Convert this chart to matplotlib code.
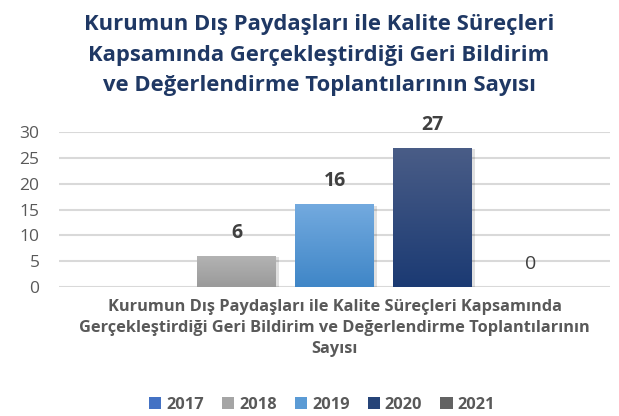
import matplotlib
matplotlib.use("Agg")
import matplotlib.pyplot as plt
import numpy as np
from matplotlib.colors import LinearSegmentedColormap
from matplotlib.patches import Patch

years = ["2017", "2018", "2019", "2020", "2021"]
values = [0, 6, 16, 27, 0]
show_label = [False, True, True, True, True]
bold_label = [True, True, True, True, False]
legend_colors = ["#4472c4", "#a5a5a5", "#5b9bd5", "#264478", "#636363"]
grad_top = ["#4f7fd0", "#b3b3b3", "#73aadf", "#4a5d87", "#6e6e6e"]
grad_bot = ["#3a66b8", "#9a9a9a", "#3f86c7", "#1b3a73", "#555555"]
title = "Kurumun Dış Paydaşları ile Kalite Süreçleri\nKapsamında Gerçekleştirdiği Geri Bildirim\nve Değerlendirme Toplantılarının Sayısı"
category = "Kurumun Dış Paydaşları ile Kalite Süreçleri Kapsamında\nGerçekleştirdiği Geri Bildirim ve Değerlendirme Toplantılarının\nSayısı"
yticks = [0, 5, 10, 15, 20, 25, 30]

plt.rcParams['font.family'] = ['Open Sans', 'DejaVu Sans']

fig = plt.figure(figsize=(6.19, 4.16), dpi=100)
ax_l, ax_r = 59/619, 610/619
ax = fig.add_axes([ax_l, 1-287/416, ax_r-ax_l, (287-132)/416])

x = np.arange(len(years))
width = 0.806
bars = ax.bar(x, values, width=width, color=legend_colors, zorder=3)
for i, b in enumerate(bars):
    if values[i] <= 0:
        continue
    cmap = LinearSegmentedColormap.from_list("g%d" % i, [grad_bot[i], grad_top[i]])
    grad = np.linspace(0, 1, 256).reshape(-1, 1)
    x0, y0 = b.get_x(), b.get_y()
    w, h = b.get_width(), b.get_height()
    ax.bar(x[i] + 0.03, values[i], width=width, bottom=-0.25, color="#000000", alpha=0.12, zorder=2)
    im = ax.imshow(grad, extent=[x0, x0 + w, y0, y0 + h], origin="lower", aspect="auto",
                   cmap=cmap, zorder=4)
    im.set_clip_path(b)

for i in range(len(years)):
    if show_label[i]:
        ax.text(x[i], values[i] + 4.45, str(values[i]), ha="center", va="center",
                fontsize=14, fontweight="bold" if bold_label[i] else "normal",
                color="#404040", zorder=5, clip_on=False)

ax.set_xlim(-0.811, 4.811)
ax.set_ylim(0, 30)
ax.set_yticks(yticks)
ax.set_yticklabels([str(t) for t in yticks], fontsize=12.5, color="#595959")
ax.tick_params(axis="y", length=0, pad=14)
ax.set_xticks([])
for s in ax.spines.values():
    s.set_visible(False)
ax.grid(axis="y", color="#d9d9d9", linewidth=1.5, zorder=0)
ax.set_axisbelow(True)

fig.text(319/619, 1-55/416, title, ha="center", va="center", fontsize=15.8, fontweight="bold",
         color="#1f3864", linespacing=1.58)
fig.text((ax_l+ax_r)/2, 1-328/416, category, ha="center", va="center", fontsize=11.8, fontweight="bold",
         color="#595959", linespacing=1.43)

handles = [Patch(facecolor=c, edgecolor="none") for c in legend_colors]
leg = fig.legend(handles, years, loc="center", bbox_to_anchor=(322/619, 1-405/416), ncol=5,
                 frameon=False, handlelength=0.75, handleheight=0.75, handletextpad=0.3,
                 columnspacing=1.1, prop={"weight": "bold", "size": 11.8})
for t in leg.get_texts():
    t.set_color("#595959")

fig.savefig("out.png", dpi=100)
